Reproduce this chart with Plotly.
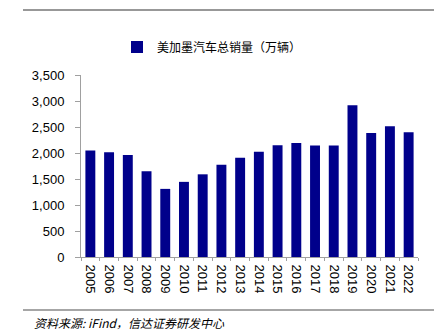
import plotly.graph_objects as go

years = [str(y) for y in range(2005, 2023)]
sales = [2050, 2015, 1960, 1650, 1310, 1445, 1590, 1775, 1910, 2025,
         2150, 2190, 2145, 2145, 2920, 2385, 2515, 2400]
y_ticks = [0, 500, 1000, 1500, 2000, 2500, 3000, 3500]
series_name = "美加墨汽车总销量（万辆）"
source_text = "资料来源: iFind，信达证券研发中心"

W, H = 445, 331
L, R, T, B = 81, 27, 75, 74
pw, ph = W - L - R, H - T - B

def px(x):
    return (x - L) / pw

def py(y):
    return (H - B - y) / ph

fig = go.Figure()
fig.add_trace(go.Bar(
    x=years, y=sales, name=series_name,
    marker=dict(color="#00008B", line=dict(width=0)),
    showlegend=True,
))

fig.update_layout(
    width=W, height=H,
    margin=dict(l=L, r=R, t=T, b=B),
    plot_bgcolor="white", paper_bgcolor="white",
    bargap=0.47,
    font=dict(family="Liberation Sans, Arial, sans-serif", size=13, color="#000"),
    showlegend=True,
    legend=dict(
        orientation="h", x=px(117), xanchor="left", y=py(47), yanchor="middle",
        font=dict(family="Noto Sans CJK SC", size=12, color="#000"),
        itemwidth=30, bgcolor="rgba(0,0,0,0)",
    ),
    xaxis=dict(
        type="category", tickangle=90, showline=True, linecolor="#a0a0a0",
        linewidth=1, ticks="outside", ticklen=3, tickcolor="#a0a0a0",
        tickson="boundaries", showgrid=False, zeroline=False,
        ticklabelstandoff=4,
    ),
    yaxis=dict(
        range=[0, 3500], tickvals=y_ticks, tickformat=",d",
        showline=True, linecolor="#a0a0a0", linewidth=1,
        ticks="outside", ticklen=5, tickcolor="#a0a0a0",
        showgrid=False, zeroline=False, ticklabelstandoff=8,
    ),
    shapes=[
        dict(type="line", xref="paper", yref="paper",
             x0=px(23), x1=px(434), y0=py(10), y1=py(10),
             line=dict(color="#333333", width=1.2)),
        dict(type="line", xref="paper", yref="paper",
             x0=px(23), x1=px(434), y0=py(310), y1=py(310),
             line=dict(color="#888888", width=1.5)),
    ],
    annotations=[
        dict(text="<i>" + source_text + "</i>", xref="paper", yref="paper",
             x=px(32), xanchor="left", y=py(322), yanchor="middle",
             showarrow=False,
             font=dict(family="Noto Sans CJK SC", size=12, color="#000")),
    ],
)

fig.write_html("out.html")
